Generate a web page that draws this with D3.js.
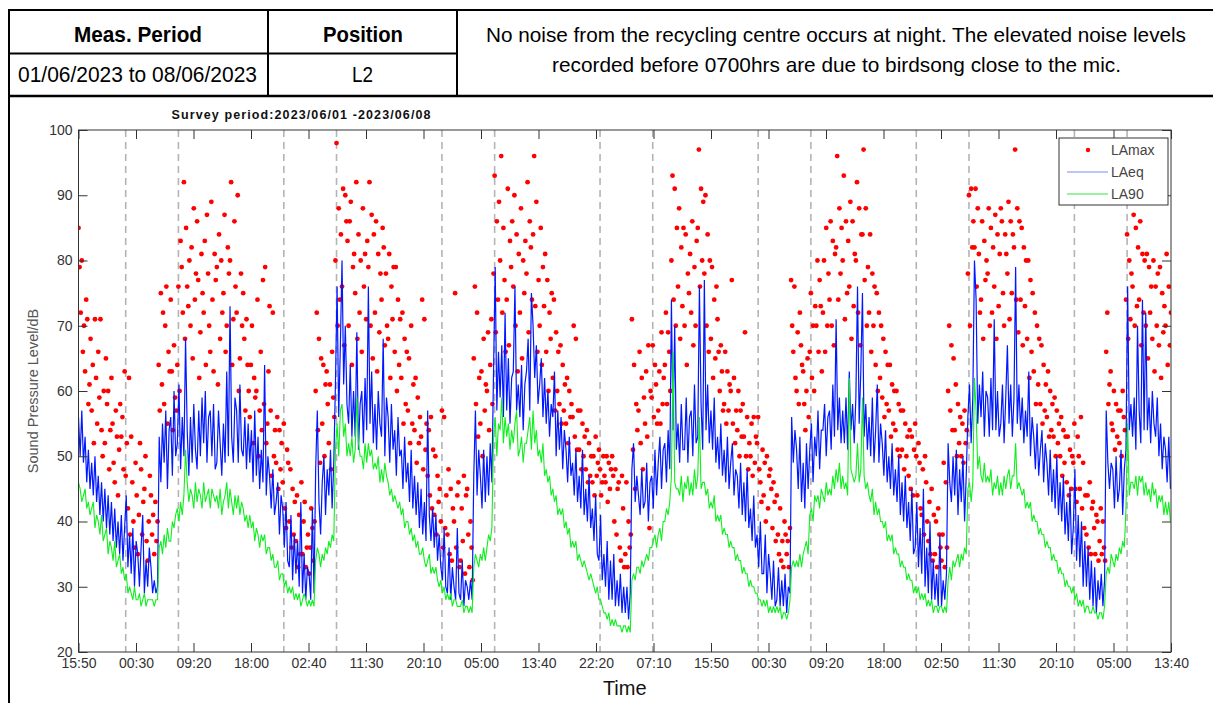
<!DOCTYPE html>
<html>
<head>
<meta charset="utf-8">
<script src="https://cdn.jsdelivr.net/npm/d3@7"></script>
<style>
  html, body { margin: 0; padding: 0; background: #fff; }
  svg { display: block; }
  text { font-family: "Liberation Sans", Arial, sans-serif; }
</style>
</head>
<body>
<svg id="chart" width="1213" height="703"></svg>
<script>
// ---------------- DATA ----------------
const startTime = "2023-06-01T15:50:00Z";
const endTime = "2023-06-08T13:40:00Z";
const eqStepMinutes = 15;   // LAeq / LA90 sample interval
const maxStepMinutes = 10;  // LAmax sample interval

const tickLabels = ["15:50","00:30","09:20","18:00","02:40","11:30","20:10","05:00","13:40","22:20",
                    "07:10","15:50","00:30","09:20","18:00","02:50","11:30","20:10","05:00","13:40"];
const yTicks = [20,30,40,50,60,70,80,90,100];
const nightLines = ["2023-06-01T23:00:00Z","2023-06-02T07:00:00Z","2023-06-02T23:00:00Z","2023-06-03T07:00:00Z",
                    "2023-06-03T23:00:00Z","2023-06-04T07:00:00Z","2023-06-04T23:00:00Z","2023-06-05T07:00:00Z",
                    "2023-06-05T23:00:00Z","2023-06-06T07:00:00Z","2023-06-06T23:00:00Z","2023-06-07T07:00:00Z",
                    "2023-06-07T23:00:00Z","2023-06-08T07:00:00Z"];
const seriesNames = ["LAmax","LAeq","LA90"];

const laeq = [
// Jun 1 16-23
56,50,57,49, 53,46,51,45, 49,44,50,43, 47,41,46,40, 45,39,44,38, 43,37,42,36, 40,35,41,34, 39,44,33,38,
// Jun 2
32,39,30,37, 35,30,36,41, 29,34,30,36, 33,29,31,29, 30,53,46,55, 49,57,45,54, 56,47,60,50, 52,61,48,56,
50,68,54,47, 56,49,58,51, 48,57,50,59, 52,60,49,56, 57,50,58,48, 49,57,52,47, 55,49,63,50, 73,53,49,59,
57,49,61,51, 50,56,48,55, 49,54,46,57, 47,53,45,51, 46,64,44,50, 47,42,48,41, 43,46,38,44, 42,36,43,34,
// Jun 3
33,41,31,38, 32,37,30,43, 29,35,28,33, 32,28,42,29, 48,57,43,38, 46,50,41,48, 44,51,42,49, 61,76,56,67,
80,61,70,58, 55,64,53,60, 53,69,51,58, 60,52,62,54, 76,55,63,52, 58,51,60,55, 53,68,50,59, 56,49,58,51,
54,47,56,50, 51,45,53,46, 49,43,51,42, 47,41,46,39, 45,38,43,37, 57,41,37,42, 36,41,34,38, 33,31,39,30,
// Jun 4
29,36,28,33, 30,28,39,29, 28,34,27,31, 30,28,31,28, 47,57,44,51, 47,42,51,43, 50,44,52,46, 63,79,57,66,
59,67,56,72, 57,65,55,62, 63,76,57,61, 56,64,54,61, 63,68,57,75, 70,62,67,58, 61,65,56,62, 55,60,53,58,
56,63,50,57, 51,56,48,54, 51,46,53,47, 49,44,51,43, 47,42,51,41, 45,40,47,39, 42,37,44,35, 34,41,31,35,
// Jun 5
30,37,28,34, 28,35,27,31, 27,32,26,30, 26,30,25,29, 48,52,43,47, 44,41,48,42, 43,49,40,46, 47,42,51,44,
49,53,45,51, 52,46,54,48, 74,54,70,51, 55,49,58,51, 51,59,49,56, 57,50,61,52, 53,76,58,51, 77,54,61,52,
57,51,59,49, 53,48,55,47, 51,46,53,45, 49,52,44,48, 47,42,49,41, 46,40,48,39, 42,37,44,36, 38,33,40,32,
// Jun 6
32,38,29,35, 32,28,34,27, 28,33,27,31, 27,32,26,30, 29,56,49,54, 51,45,53,43, 49,42,52,45, 51,55,46,53,
50,57,48,54, 54,58,50,56, 57,51,61,53, 71,54,59,52, 57,52,59,51, 63,54,58,52, 59,76,55,63, 75,53,58,51,
56,50,59,49, 54,61,49,55, 52,47,54,46, 50,45,52,44, 48,43,50,41, 46,40,47,39, 43,37,45,35, 36,43,33,39,
// Jun 7
32,45,30,36, 29,40,28,34, 28,32,27,38, 27,31,28,32, 52,46,43,50, 44,51,41,48, 43,50,40,47, 56,61,52,59,
80,74,55,61, 56,63,53,60, 59,53,62,54, 71,54,60,53, 55,61,52,59, 67,55,61,53, 59,79,55,61, 54,59,52,57,
53,63,50,56, 53,48,55,47, 51,54,46,52, 49,44,51,43, 48,42,50,41, 46,40,47,38, 43,37,45,35, 39,48,34,41,
// Jun 8
33,40,30,37, 30,36,28,34, 27,33,26,31, 28,32,27,31, 57,49,45,49, 48,42,50,43, 45,51,41,48, 51,76,54,58,
53,59,51,70, 57,52,74,54, 72,54,59,52, 60,55,53,59, 50,55,48,53, 51,46,53,45
];

const la90 = [
// Jun 1
46,45,43,44, 45,42,43,41, 42,43,39,41, 40,38,41,37, 38,39,35,37, 36,34,37,33, 34,35,32,33, 31,32,29,30,
// Jun 2
29,28,30,28, 28,29,27,28, 29,27,28,28, 28,28,27,28, 28,36,37,35, 38,36,39,37, 37,40,39,41, 42,40,43,41,
44,51,46,43, 45,44,42,46, 43,45,44,42, 46,43,44,45, 42,45,44,43, 44,42,45,41, 43,44,46,42, 45,43,41,44,
42,44,41,43, 42,40,41,39, 41,39,40,37, 39,38,36,38, 37,38,35,36, 36,34,35,33, 33,34,31,32, 32,30,31,29,
// Jun 3
30,29,30,28, 29,28,29,27, 28,29,28,27, 28,27,28,27, 34,36,35,33, 35,34,36,35, 37,36,38,37, 51,55,50,57,
58,53,55,50, 52,50,53,49, 51,59,52,50, 50,48,52,49, 52,50,51,48, 49,48,50,46, 48,46,49,47, 46,44,45,43,
44,43,42,43, 41,42,39,40, 40,38,39,37, 38,36,37,35, 35,36,34,33, 34,35,32,33, 32,33,31,30, 31,29,30,28,
// Jun 4
29,28,29,27, 28,28,27,27, 27,28,26,27, 27,26,27,26, 33,35,34,33, 35,34,36,34, 36,38,37,39, 53,56,50,55,
54,59,52,56, 53,55,51,54, 52,55,57,50, 51,53,49,52, 52,54,56,51, 57,52,54,50, 51,49,52,47, 48,46,47,44,
45,43,44,41, 42,41,42,39, 40,38,39,36, 37,36,37,34, 35,34,33,34, 33,32,31,32, 31,30,29,30, 28,28,27,26,
// Jun 5
26,25,26,24, 25,24,25,24, 24,24,23,24, 24,23,24,23, 31,32,31,33, 33,32,34,33, 34,35,34,36, 36,37,38,36,
38,39,37,40, 40,42,41,43, 47,66,46,45, 45,44,47,43, 46,45,47,44, 46,44,48,45, 47,56,45,46, 46,44,45,42,
43,42,44,40, 41,40,41,38, 39,38,38,36, 37,36,36,34, 35,34,34,32, 33,32,32,30, 31,30,30,29, 29,28,28,27,
// Jun 6
28,27,28,26, 27,26,27,26, 27,26,27,25, 26,26,25,26, 28,33,34,33, 34,33,35,33, 35,36,37,35, 41,42,40,44,
43,44,42,45, 44,43,46,44, 45,44,47,45, 48,46,49,45, 47,45,46,44, 62,48,47,46, 47,52,46,48, 59,47,45,46,
44,43,45,41, 43,41,42,40, 40,39,40,37, 38,37,38,35, 36,35,35,33, 34,33,33,31, 32,31,31,29, 30,29,30,28,
// Jun 7
29,28,29,27, 28,27,28,26, 27,27,26,27, 27,26,27,26, 31,33,31,34, 33,34,35,33, 35,34,36,35, 45,46,43,46,
62,57,48,50, 47,46,49,46, 47,46,48,44, 46,45,47,44, 46,44,47,45, 47,48,45,47, 47,52,45,46, 45,44,45,42,
43,42,43,40, 41,40,40,38, 39,38,38,36, 37,36,36,34, 35,34,34,32, 33,32,32,30, 31,30,30,29, 30,28,29,27,
// Jun 8
28,27,28,26, 27,27,26,26, 27,26,26,25, 26,26,25,27, 32,33,32,35, 34,33,35,34, 36,35,37,36, 42,55,44,46,
46,45,47,44, 47,46,47,44, 46,44,45,43, 46,44,45,42, 44,43,44,41, 43,41,43,40
];

const lamax = [
// Jun 1
85,79,72,80,66,70, 63,74,71,58,61,68, 57,64,52,71,62,55, 66,59,71,54,50,60, 52,65,58,60,48,54, 62,55,49,46,57,53,
44,51,58,53,56,48, 63,47,52,42,62,38,
// Jun 2
53,46,40,36,49,44, 35,41,52,48,38,43, 45,50,37,34,40,47, 44,38,41,35,43,37, 40,64,57,75,61,72, 58,70,76,55,66,63,
74,63,54,67,59,57, 64,76,60,83,79,72, 92,68,85,76,73,80, 70,82,65,88,74,78, 86,77,62,69,81,75, 72,83,64,87,78,70,
66,89,74,63,81,77, 79,61,84,68,80,72, 75,87,66,70,82,78, 80,92,64,71,86,76, 72,90,60,65,78,70, 75,68,57,71,64,60,
56,64,70,52,62,59, 60,74,50,57,66,54, 77,58,79,52,55,63, 73,57,47,72,50,54, 49,56,45,54,48,52, 46,55,42,39,51,49,
// Jun 3
40,48,36,45,38,43, 37,44,33,41,35,46, 35,40,43,33,36,38, 32,36,42,39,34,40, 60,72,54,68,49,65, 55,64,50,61,63,58,
52,61,48,66,59,56, 80,98,70,88,74,84, 76,91,67,90,86,83, 70,86,89,64,79,81, 75,92,68,84,72,80, 66,88,76,81,71,83,
79,92,70,87,65,84, 72,86,63,81,69,78, 74,85,82,67,78,70, 68,81,62,76,71,79, 66,79,60,74,64,71, 62,72,55,68,58,66,
57,65,52,70,55,61, 54,62,49,59,52,56, 53,74,48,71,51,55, 47,54,44,56,42,51, 41,50,38,47,43,45, 40,57,36,56,39,44,
// Jun 4
38,48,35,45,34,42, 40,75,36,44,46,33, 34,42,37,47,32,44, 45,38,33,40,36,31, 65,76,58,72,53,62, 55,63,50,68,57,61,
60,69,54,64,71,58, 78,93,69,86,74,89, 80,96,72,85,77,66, 74,91,67,83,79,86, 76,90,70,84,63,81, 72,88,65,80,75,83,
78,92,69,86,82,74, 84,96,73,89,66,77, 70,85,64,79,73,81, 66,77,60,72,68,75, 62,74,57,69,60,66, 58,67,55,64,57,61,
55,62,52,60,56,58, 56,70,53,68,51,57, 51,57,48,55,50,53, 48,54,46,52,47,50, 46,50,44,53,47,49, 51,48,44,46,50,47,
// Jun 5
46,50,43,49,45,48, 50,47,40,48,38,45, 46,36,34,47,42,33, 35,46,33,40,36,38, 71,51,64,45,58,54, 57,66,52,62,48,59,
55,63,53,67,39,60, 59,67,56,64,61,55, 57,63,55,69,58,62, 64,72,58,69,66,60, 80,93,74,91,70,85, 76,88,68,82,73,85,
70,84,64,78,75,81, 72,86,67,79,70,83, 85,97,76,91,80,89, 78,90,70,84,66,80, 68,79,62,74,65,76, 71,66,60,67,63,57,
58,66,55,63,57,61, 60,77,55,62,52,57, 54,60,50,57,53,58, 53,69,50,56,48,52, 50,55,47,56,49,53, 52,56,48,46,43,51,
// Jun 6
44,49,40,50,42,47, 48,45,39,46,43,37, 44,38,35,42,34,37, 33,40,38,35,37,33, 39,77,70,66,76,62, 60,69,58,72,67,64,
63,58,54,60,65,56, 66,75,62,70,60,73, 70,80,66,77,73,63, 72,80,66,85,70,78, 74,86,70,83,67,81, 82,96,74,88,78,85,
80,93,71,86,75,83, 76,89,68,86,73,81, 80,92,72,88,67,84, 84,97,77,88,70,79, 72,84,66,78,70,76, 64,75,60,72,62,70,
59,68,56,66,58,64, 57,64,53,61,55,60, 54,60,51,58,50,57, 51,57,48,55,50,53, 47,54,45,53,44,51, 55,50,44,52,49,42,
// Jun 7
41,48,38,50,46,40, 37,43,35,45,34,41, 35,40,33,42,38,36, 34,38,49,33,46,36, 60,70,57,67,54,65, 54,61,50,58,52,56,
50,55,49,57,52,54, 78,90,70,91,82,86, 82,91,76,88,81,72, 74,86,68,83,77,80, 78,88,70,85,72,82, 76,87,68,84,73,81,
88,86,75,70,84,81, 78,89,71,86,75,84, 82,97,74,88,69,86, 74,85,67,82,73,80, 68,80,62,77,66,75, 63,72,58,70,61,68,
58,67,55,64,57,61, 56,63,53,60,54,58, 53,59,50,57,52,55, 50,56,47,54,49,53, 46,53,44,51,45,50, 49,55,45,43,53,50,
// Jun 8
45,56,42,49,39,44, 38,44,36,46,35,42, 43,39,35,41,40,34, 37,42,35,40,36,34, 66,72,58,61,63,55, 54,60,51,58,53,57,
52,57,50,60,56,54, 74,84,68,80,71,78, 76,87,70,85,73,82, 74,86,67,81,72,80, 70,81,65,79,72,76, 68,80,63,76,70,78,
67,79,62,75,69,73, 70,81,64,76,67,72
];

// ---------------- LAYOUT ----------------
const svg = d3.select("#chart");
const FONT = '"Liberation Sans", Arial, sans-serif';
const plot = { left: 78.5, right: 1171, top: 130, bottom: 652 };

svg.append("rect").attr("width", 1213).attr("height", 703).attr("fill", "#fff");

// ---- header table ----
const hdr = svg.append("g");
const lineStyle = s => s.attr("stroke", "#000").attr("stroke-width", 2);
hdr.append("line").attr("x1", 9).attr("x2", 1213).attr("y1", 10).attr("y2", 10).call(lineStyle);
hdr.append("line").attr("x1", 9).attr("x2", 457).attr("y1", 53.5).attr("y2", 53.5).call(lineStyle);
hdr.append("line").attr("x1", 9).attr("x2", 1213).attr("y1", 96).attr("y2", 96).call(lineStyle).attr("stroke-width", 2.5);
hdr.append("line").attr("x1", 9).attr("x2", 9).attr("y1", 9).attr("y2", 703).call(lineStyle);
hdr.append("line").attr("x1", 268).attr("x2", 268).attr("y1", 10).attr("y2", 96).call(lineStyle);
hdr.append("line").attr("x1", 457).attr("x2", 457).attr("y1", 10).attr("y2", 96).call(lineStyle);

const headerTexts = [
  { t: "Meas. Period", x: 138, y: 41.5, w: 128, bold: true, fs: 22.5 },
  { t: "Position", x: 363, y: 41.5, w: 80, bold: true, fs: 22.5 },
  { t: "01/06/2023 to 08/06/2023", x: 137.5, y: 82, w: 239, bold: false, fs: 22.5 },
  { t: "L2", x: 362.5, y: 82, w: 21, bold: false, fs: 22.5 },
  { t: "No noise from the recycling centre occurs at night. The elevated noise levels", x: 836, y: 41.5, w: 700, bold: false, fs: 21 },
  { t: "recorded before 0700hrs are due to birdsong close to the mic.", x: 836.5, y: 72, w: 569, bold: false, fs: 21 }
];
hdr.selectAll("text.h").data(headerTexts).join("text")
  .attr("class", "h")
  .attr("x", d => d.x).attr("y", d => d.y)
  .attr("text-anchor", "middle")
  .attr("font-size", d => d.fs)
  .attr("font-weight", d => d.bold ? "bold" : "normal")
  .attr("fill", "#000")
  .attr("textLength", d => d.w)
  .attr("lengthAdjust", "spacingAndGlyphs")
  .text(d => d.t);

// ---- scales ----
const t0 = new Date(startTime), t1 = new Date(endTime);
const x = d3.scaleUtc().domain([t0, t1]).range([plot.left, plot.right]);
const y = d3.scaleLinear().domain([20, 100]).range([plot.bottom, plot.top]);

const eqData = laeq.map((v, i) => ({ t: new Date(+t0 + i * eqStepMinutes * 60000), v }));
const l90Data = la90.map((v, i) => ({ t: new Date(+t0 + i * eqStepMinutes * 60000), v }));
const maxData = lamax.map((v, i) => ({ t: new Date(+t0 + i * maxStepMinutes * 60000), v }));
const tickDates = tickLabels.map((_, i) => new Date(+t0 + (t1 - t0) * i / (tickLabels.length - 1)));

svg.append("defs").append("clipPath").attr("id", "clip")
  .append("rect").attr("x", plot.left).attr("y", plot.top)
  .attr("width", plot.right - plot.left).attr("height", plot.bottom - plot.top);

// ---- title ----
svg.append("text").attr("x", 301).attr("y", 119).attr("text-anchor", "middle")
  .attr("font-size", 12.5).attr("font-weight", "bold").attr("fill", "#111")
  .attr("textLength", 259).attr("lengthAdjust", "spacing")
  .text("Survey period:2023/06/01 -2023/06/08");

// ---- night dashed lines ----
svg.append("g").selectAll("line").data(nightLines.map(s => new Date(s))).join("line")
  .attr("x1", d => x(d)).attr("x2", d => x(d))
  .attr("y1", plot.top).attr("y2", plot.bottom)
  .attr("stroke", "#b4b4b4").attr("stroke-width", 1.6).attr("stroke-dasharray", "7,5");

// ---- data ----
const dataG = svg.append("g").attr("clip-path", "url(#clip)");
dataG.append("g").selectAll("circle").data(maxData).join("circle")
  .attr("cx", d => x(d.t)).attr("cy", d => y(d.v)).attr("r", 2.4).attr("fill", "#ff0000");
const line = d3.line().x(d => x(d.t)).y(d => y(d.v));
dataG.append("path").datum(eqData).attr("d", line)
  .attr("fill", "none").attr("stroke", "#0018ff").attr("stroke-width", 1.2);
dataG.append("path").datum(l90Data).attr("d", line)
  .attr("fill", "none").attr("stroke", "#10ee20").attr("stroke-width", 1.1);

// ---- axes ----
const axCol = "#333";
const styleAxis = g => {
  g.select(".domain").remove();
  g.selectAll(".tick line").attr("stroke", axCol);
  g.selectAll(".tick text").attr("fill", "#333").attr("font-size", 14).attr("font-family", FONT);
};
svg.append("g").attr("transform", `translate(0,${plot.bottom})`)
  .call(d3.axisBottom(x).tickValues(tickDates).tickFormat((d, i) => tickLabels[i]).tickSize(-9).tickSizeOuter(0).tickPadding(6))
  .call(styleAxis);
svg.append("g").attr("transform", `translate(0,${plot.top})`)
  .call(d3.axisTop(x).tickValues(tickDates).tickFormat("").tickSize(-9).tickSizeOuter(0))
  .call(styleAxis);
svg.append("g").attr("transform", `translate(${plot.left},0)`)
  .call(d3.axisLeft(y).tickValues(yTicks).tickSize(-9).tickSizeOuter(0).tickPadding(6))
  .call(styleAxis);
svg.append("g").attr("transform", `translate(${plot.right},0)`)
  .call(d3.axisRight(y).tickValues(yTicks).tickFormat("").tickSize(-9).tickSizeOuter(0))
  .call(styleAxis);
svg.append("rect").attr("x", plot.left).attr("y", plot.top)
  .attr("width", plot.right - plot.left).attr("height", plot.bottom - plot.top)
  .attr("fill", "none").attr("stroke", "#333").attr("stroke-width", 1);

// ---- axis titles ----
svg.append("text").attr("x", (plot.left + plot.right) / 2).attr("y", 695)
  .attr("text-anchor", "middle").attr("font-size", 20).attr("fill", "#111").text("Time");
svg.append("text").attr("transform", `translate(38,${(plot.top + plot.bottom) / 2}) rotate(-90)`)
  .attr("text-anchor", "middle").attr("font-size", 14.5).attr("fill", "#555").text("Sound Pressure Level/dB");

// ---- legend ----
const lg = svg.append("g");
lg.append("rect").attr("x", 1059).attr("y", 138).attr("width", 109).attr("height", 67)
  .attr("fill", "#fff").attr("stroke", "#333").attr("stroke-width", 1);
const legY = [150, 172, 194];
const legColors = ["#ff0000", "#7c8cff", "#30e840"];
seriesNames.forEach((name, i) => {
  if (i === 0) {
    lg.append("circle").attr("cx", 1088).attr("cy", legY[i]).attr("r", 2.2).attr("fill", legColors[i]);
  } else {
    lg.append("line").attr("x1", 1067).attr("x2", 1108).attr("y1", legY[i]).attr("y2", legY[i])
      .attr("stroke", legColors[i]).attr("stroke-width", 1.2);
  }
  lg.append("text").attr("x", 1111).attr("y", legY[i] + 5).attr("font-size", 14)
    .attr("fill", "#444").text(name);
});
</script>
</body>
</html>
